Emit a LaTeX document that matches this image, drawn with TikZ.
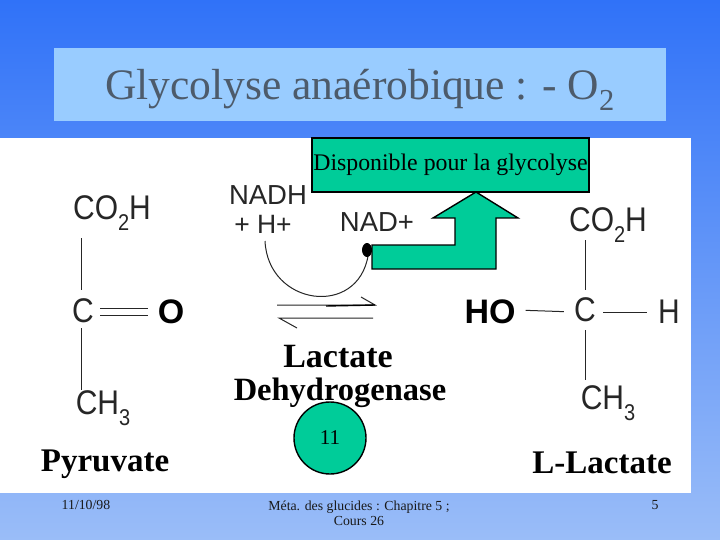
\documentclass[tikz,border=0pt]{standalone}
\usepackage{fontspec}
\setmainfont{Liberation Serif}
\newfontfamily\chemfont{Liberation Sans}
\definecolor{slidetop}{HTML}{3072F8}
\definecolor{slidebot}{HTML}{9ABDF8}
\definecolor{titlebg}{HTML}{99CCFF}
\definecolor{titleink}{HTML}{4D5B6B}
\definecolor{teal}{HTML}{00CC99}
\newcommand{\lowered}[1]{\raisebox{-0.32em}{\fontsize{20}{20}\selectfont #1}}
\newcommand{\tall}[1]{\scalebox{1}[1.14]{#1}}
\tikzstyle{chem} = [font=\chemfont\fontsize{30}{30}\selectfont,inner sep=0pt,text=black!85]
\tikzstyle{small chem} = [font=\chemfont\fontsize{27.5}{27.5}\selectfont,inner sep=0pt,text=black!85]
\tikzstyle{heavy} = [font=\chemfont\bfseries\fontsize{34}{34}\selectfont,inner sep=0pt]
\tikzstyle{molname} = [font=\bfseries\fontsize{33}{33}\selectfont,inner sep=0pt]
\tikzstyle{foot} = [font=\fontsize{13.8}{15.5}\selectfont,inner sep=0pt,text=black!90,align=center]
\tikzstyle{bond} = [line width=1pt,black!85]
\tikzstyle{tealshape} = [draw=black,line width=1.4pt,fill=teal]

\begin{document}
\begin{tikzpicture}[x=1pt,y=-1pt]
	\useasboundingbox (0,0) rectangle (720,540);
	% slide
	\shade[top color=slidetop,bottom color=slidebot] (0,0) rectangle (720,540);
	\fill[white] (0,138) rectangle (691,493);
	\fill[titlebg] (54,48) rectangle (666,121);
	\node[inner sep=0pt,text=titleink,font=\fontsize{43.5}{43.5}\selectfont] (title) at (360,90) {Glycolyse anaérobique : - O\textsubscript{2}};
	
	% pyruvate
	\node[chem] (co2hL) at (112,213) {\tall{CO\lowered{2}H}};
	\node[chem] (cL) at (83,311) {\tall{C}};
	\node[heavy] (oL) at (171,312) {O};
	\node[chem] (ch3L) at (103,408) {\tall{CH\lowered{3}}};
	\node[molname] (pyruvate) at (105,464) {Pyruvate};
	\coordinate (topL) at (81,238);
	\coordinate (botL) at (81,390);
	\draw[bond] (topL) -- (81,290);
	\draw[bond] (81,328) -- (botL);
	\draw[bond] (100,308) -- (148,308);
	\draw[bond] (100,315) -- (148,315);
	
	% lactate
	\node[chem] (co2hR) at (608,225) {\tall{CO\lowered{2}H}};
	\node[chem] (cR) at (585,310) {\tall{C}};
	\node[heavy] (ho) at (490,312) {HO};
	\node[chem] (hR) at (669,312) {\tall{H}};
	\node[chem] (ch3R) at (608,403) {\tall{CH\lowered{3}}};
	\node[molname] (lactate) at (602,463) {L-Lactate};
	\coordinate (topR) at (585,240);
	\coordinate (botR) at (585,380);
	\draw[bond] (topR) -- (585,290);
	\draw[bond] (585,330) -- (botR);
	\draw[bond,shorten <=10pt,shorten >=10pt] (ho.east |- cR.center) -- (cR.west |- ho.center);
	\draw[bond,shorten <=7pt,shorten >=11pt] (cR.east |- hR.center) -- (hR.west);
	
	% cofactors
	\node[small chem] (nadh) at (268,195) {NADH};
	\node[small chem,font=\chemfont\fontsize{26.5}{26.5}\selectfont] (hplus) at (263,224) {+ H+};
	\node[small chem] (nad) at (377,222) {NAD+};
	\coordinate (curvestart) at (265,241);
	\coordinate (curveend) at (369,250);
	\draw[->,>=latex,line width=1pt,black!85] (curvestart) .. controls (268,306) and (358,318) .. (curveend);
	\fill[black] (367,250) ellipse (5 and 7);
	
	% equilibrium
	\coordinate (eqA) at (277,305);
	\coordinate (eqB) at (375,305);
	\coordinate (eqC) at (373,318);
	\coordinate (eqD) at (279,318);
	\draw[bond] (eqA) -- (eqB) -- (361,297);
	\draw[line width=1.4pt] (326,306) -- (eqB);
	\draw[bond] (eqC) -- (eqD) -- (297,328);
	
	\node[inner sep=0pt,font=\bfseries\fontsize{34}{34}\selectfont] (ldhA) at (338,357) {Lactate};
	\node[inner sep=0pt,font=\bfseries\fontsize{32.5}{32.5}\selectfont] (ldhB) at (340,393) {Dehydrogenase};
	
	% green shapes
	\draw[tealshape] (372,245) -- (455,245) -- (455,218) -- (433,218) -- (476,192) -- (518,218) -- (496,218) -- (496,269) -- (372,269) -- cycle;
	\node[tealshape,inner sep=0pt,minimum width=277,minimum height=54,font=\fontsize{23.8}{23.8}\selectfont] (dispo) at (450.5,165) {\raisebox{-3pt}{Disponible pour la glycolyse}};
	\node[tealshape,circle,inner sep=0pt,minimum size=72,font=\fontsize{21}{21}\selectfont] (n11) at (330,438) {11};
	
	% footer
	\node[foot] (date) at (86,505) {11/10/98};
	\node[foot] (course) at (359,513.5) {Méta. des glucides : Chapitre 5 ;\\Cours 26};
	\node[foot] (page) at (655,505) {5};
\end{tikzpicture}
\end{document}
